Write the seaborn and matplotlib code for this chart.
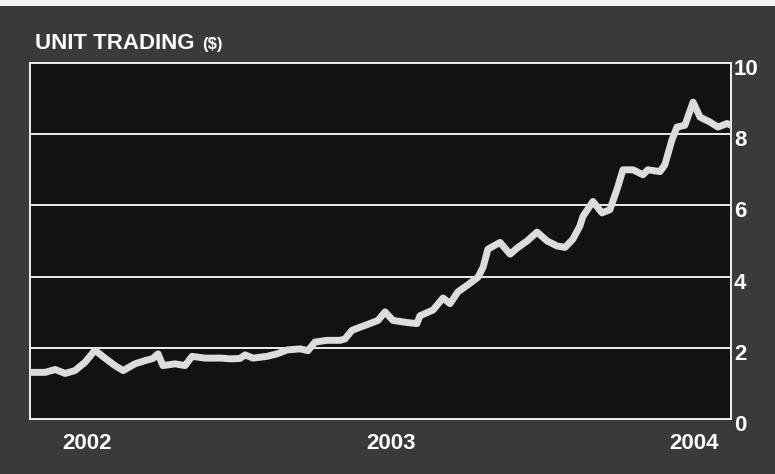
import matplotlib
matplotlib.use("Agg")
import matplotlib.pyplot as plt
import matplotlib.transforms as mtransforms
from matplotlib.patches import Rectangle
import seaborn as sns
import pandas as pd

# ---- data (decimal year, price in $) ----
years = [2001.812, 2001.818, 2001.862, 2001.895, 2001.928, 2001.960, 2001.993,
         2002.026, 2002.059, 2002.092, 2002.119, 2002.158, 2002.191, 2002.217,
         2002.234, 2002.250, 2002.290, 2002.323, 2002.346, 2002.389, 2002.445,
         2002.471, 2002.504, 2002.521, 2002.547, 2002.593, 2002.626, 2002.659,
         2002.702, 2002.728, 2002.751, 2002.791, 2002.834, 2002.850, 2002.873,
         2002.900, 2002.932, 2002.959, 2002.982, 2003.008, 2003.054, 2003.087,
         2003.097, 2003.140, 2003.173, 2003.196, 2003.222, 2003.255, 2003.288,
         2003.305, 2003.321, 2003.361, 2003.394, 2003.420, 2003.450, 2003.483,
         2003.516, 2003.549, 2003.575, 2003.601, 2003.624, 2003.634, 2003.667,
         2003.697, 2003.723, 2003.746, 2003.766, 2003.799, 2003.832, 2003.848,
         2003.888, 2003.904, 2003.927, 2003.944, 2003.970, 2003.997, 2004.020,
         2004.053, 2004.079, 2004.109, 2004.122]
price = [1.31, 1.31, 1.31, 1.39, 1.28, 1.36, 1.59,
         1.93, 1.71, 1.50, 1.36, 1.55, 1.64, 1.70,
         1.83, 1.50, 1.55, 1.50, 1.76, 1.71, 1.71,
         1.69, 1.70, 1.80, 1.71, 1.76, 1.83, 1.94,
         1.97, 1.92, 2.16, 2.21, 2.21, 2.25, 2.49,
         2.58, 2.68, 2.77, 3.01, 2.77, 2.71, 2.68,
         2.90, 3.06, 3.40, 3.24, 3.57, 3.77, 3.98,
         4.26, 4.77, 4.96, 4.63, 4.82, 5.00, 5.25,
         5.00, 4.86, 4.82, 5.05, 5.42, 5.69, 6.11,
         5.79, 5.88, 6.44, 7.00, 7.00, 6.86, 7.00,
         6.95, 7.14, 7.83, 8.20, 8.25, 8.90, 8.48,
         8.34, 8.20, 8.30, 8.25]
x_ticks = [2002, 2003, 2004]
x_tick_labels = ["2002", "2003", "2004"]
y_ticks = [0, 2, 4, 6, 8, 10]
y_tick_labels = ["0", "2", "4", "6", "8", "10"]
title_main = "UNIT TRADING"
title_unit = "($)"

df = pd.DataFrame({"year": years, "price": price})

sns.set_theme(style="dark")
plt.rcParams["font.family"] = ["Liberation Sans", "DejaVu Sans"]

fig = plt.figure(figsize=(7.75, 4.74), dpi=100)
fig.patch.set_facecolor("#3a3a3a")
# white scan border at top
fig.patches.append(Rectangle((0, 1 - 6 / 474), 1, 6 / 474, transform=fig.transFigure,
                             facecolor="#f2f2f2", edgecolor="none", zorder=0))

ax = fig.add_axes([30 / 775, 1 - 419 / 474, (731 - 30) / 775, (419 - 63) / 474])
ax.set_facecolor("#121212")

for yv in y_ticks[1:-1]:
    ax.axhline(yv, color="white", lw=1.3, zorder=1)

sns.lineplot(data=df, x="year", y="price", ax=ax, color="#dcdcdc", lw=5.0,
             zorder=3, solid_capstyle="round", solid_joinstyle="round")

ax.set_xlim(years[0], years[-1])
ax.set_ylim(0, 10)
ax.set_xlabel("")
ax.set_ylabel("")
ax.grid(False)

for s in ax.spines.values():
    s.set_visible(True)
    s.set_color("white")
    s.set_linewidth(1.3)

ax.set_xticks(x_ticks)
ax.set_xticklabels(x_tick_labels)
ax.yaxis.tick_right()
ax.set_yticks(y_ticks)
ax.set_yticklabels(y_tick_labels)
ax.tick_params(axis="both", length=0, colors="white", labelsize=16)
ax.tick_params(axis="x", pad=10)
ax.tick_params(axis="y", pad=2)
for lab in ax.get_xticklabels() + ax.get_yticklabels():
    lab.set_fontweight("bold")
offset = mtransforms.ScaledTranslation(0, -4 / 100, fig.dpi_scale_trans)
for lab in ax.get_yticklabels():
    lab.set_transform(lab.get_transform() + offset)

fig.text(35 / 775, 1 - 49 / 474, title_main, color="white", fontsize=16,
         fontweight="bold", ha="left", va="baseline")
fig.text(202 / 775, 1 - 49 / 474, title_unit, color="white", fontsize=12,
         fontweight="bold", ha="left", va="baseline")

fig.savefig("out.png", dpi=100, facecolor=fig.get_facecolor())
